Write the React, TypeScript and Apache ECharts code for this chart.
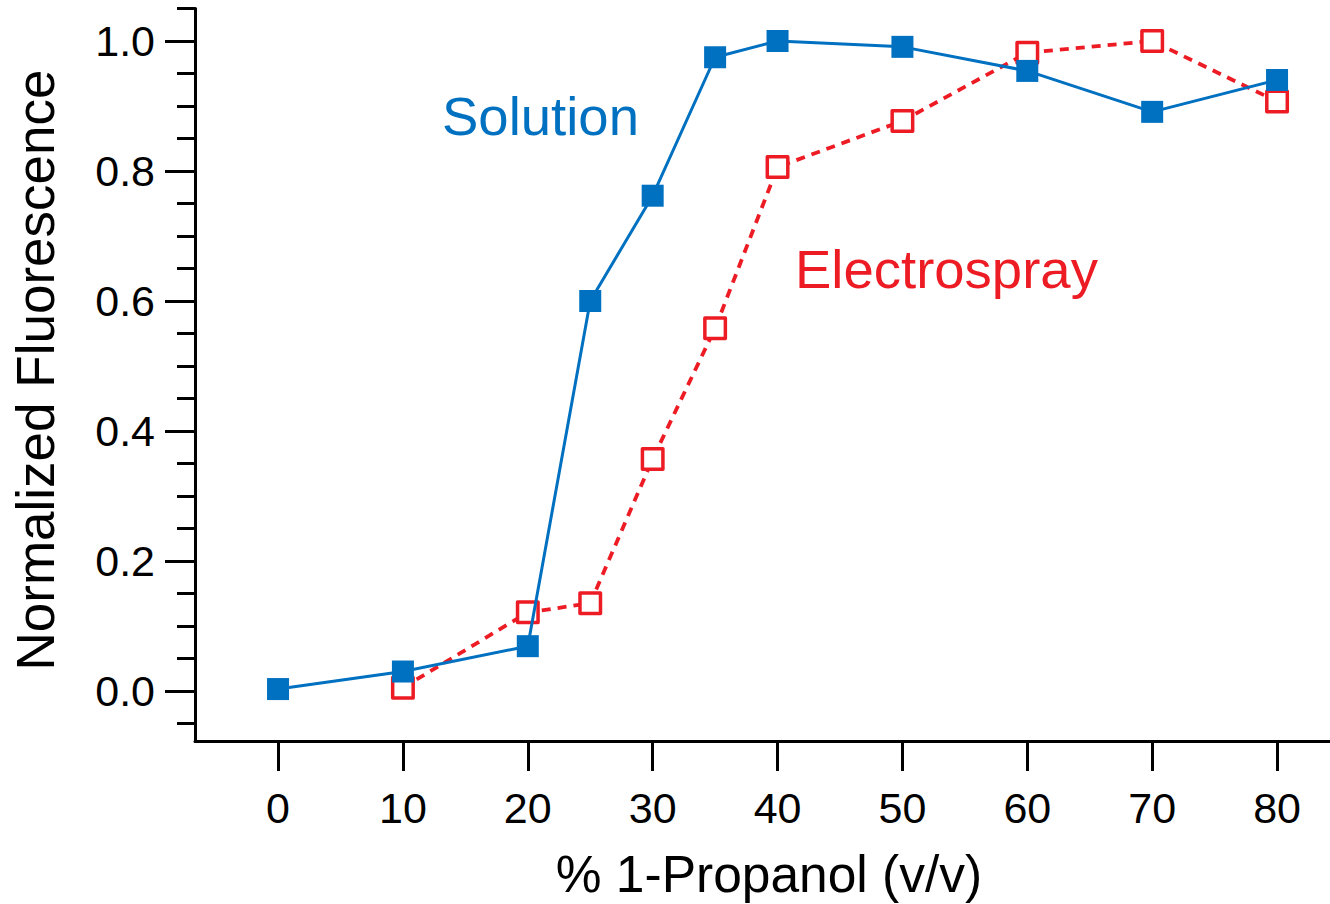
import React, { useEffect, useRef } from "react";
import * as echarts from "echarts";

// % 1-propanol (v/v)
const solutionX = [0, 10, 20, 25, 30, 35, 40, 50, 60, 70, 80];
const solutionY = [0.003, 0.03, 0.069, 0.6, 0.762, 0.975, 1.0, 0.991, 0.954, 0.891, 0.94];

const electrosprayX = [10, 20, 25, 30, 35, 40, 50, 60, 70, 80];
const electrosprayY = [0.005, 0.121, 0.135, 0.357, 0.558, 0.806, 0.877, 0.982, 1.0, 0.907];

const xTicks = [0, 10, 20, 30, 40, 50, 60, 70, 80];
const yMajorTicks = [0, 0.2, 0.4, 0.6, 0.8, 1.0];
const yMinorTicks = [-0.05, 0.05, 0.1, 0.15, 0.25, 0.3, 0.35, 0.45, 0.5, 0.55, 0.65, 0.7, 0.75, 0.85, 0.9, 0.95, 1.05];

const BLUE = "#0070C0";
const RED = "#ED1C24";
const FONT = "'Liberation Sans', Arial, sans-serif";

const pairs = (xs: number[], ys: number[]) => xs.map((x, i) => [x, ys[i]]);

export default function App() {
  const ref = useRef<HTMLDivElement>(null);

  useEffect(() => {
    if (!ref.current) return;
    const chart = echarts.init(ref.current, undefined, { renderer: "svg" });

    const grid = { left: 195, top: 8.5, width: 1135, height: 732.5 };
    const yMin = -0.0769;
    const yMax = 1.05;

    chart.setOption({
      animation: false,
      backgroundColor: "#ffffff",
      grid,
      xAxis: {
        type: "value",
        min: -6.65,
        max: 84.24,
        splitLine: { show: false },
        axisLine: { show: true, onZero: false, lineStyle: { color: "#000", width: 3 } },
        axisTick: {
          show: true,
          length: 30,
          customValues: xTicks,
          lineStyle: { color: "#000", width: 3 },
        },
        axisLabel: {
          customValues: xTicks,
          margin: 45,
          fontSize: 43,
          color: "#000",
          fontFamily: FONT,
        },
      },
      yAxis: [
        {
          type: "value",
          min: yMin,
          max: yMax,
          position: "left",
          splitLine: { show: false },
          axisLine: { show: true, onZero: false, lineStyle: { color: "#000", width: 3 } },
          axisTick: {
            show: true,
            length: 30,
            customValues: yMajorTicks,
            lineStyle: { color: "#000", width: 3 },
          },
          axisLabel: {
            customValues: yMajorTicks,
            margin: 40,
            fontSize: 43,
            color: "#000",
            fontFamily: FONT,
            formatter: (v: number) => v.toFixed(1),
          },
        },
        {
          type: "value",
          min: yMin,
          max: yMax,
          position: "left",
          splitLine: { show: false },
          axisLine: { show: false, onZero: false },
          axisTick: {
            show: true,
            length: 18,
            customValues: yMinorTicks,
            lineStyle: { color: "#000", width: 3 },
          },
          axisLabel: { show: false },
        },
      ],
      series: [
        {
          name: "Electrospray",
          type: "line",
          data: pairs(electrosprayX, electrosprayY),
          symbol: "rect",
          symbolSize: 20.5,
          lineStyle: { color: RED, width: 3.8, type: [9, 7] },
          itemStyle: { color: "#ffffff", borderColor: RED, borderWidth: 3.5, borderJoin: "round" },
          z: 2,
        },
        {
          name: "Solution",
          type: "line",
          data: pairs(solutionX, solutionY),
          symbol: "rect",
          symbolSize: 22,
          lineStyle: { color: BLUE, width: 3 },
          itemStyle: { color: BLUE, borderWidth: 0 },
          z: 3,
        },
      ],
      graphic: [
        {
          type: "text",
          x: 442,
          y: 116,
          style: {
            text: "Solution",
            fill: BLUE,
            font: `54.5px ${FONT}`,
            align: "left",
            verticalAlign: "middle",
          },
        },
        {
          type: "text",
          x: 795,
          y: 269,
          style: {
            text: "Electrospray",
            fill: RED,
            font: `54.5px ${FONT}`,
            align: "left",
            verticalAlign: "middle",
          },
        },
        {
          type: "text",
          x: 769,
          y: 874,
          style: {
            text: "% 1-Propanol (v/v)",
            fill: "#000",
            font: `51.5px ${FONT}`,
            align: "center",
            verticalAlign: "middle",
          },
        },
        {
          type: "text",
          x: 35,
          y: 370,
          rotation: Math.PI / 2,
          style: {
            text: "Normalized Fluorescence",
            fill: "#000",
            font: `53px ${FONT}`,
            align: "center",
            verticalAlign: "middle",
          },
        },
      ],
    });

    return () => chart.dispose();
  }, []);

  return (
    <div
      ref={ref}
      style={{ position: "fixed", left: 0, top: 0, width: 1330, height: 904, background: "#fff" }}
    />
  );
}
